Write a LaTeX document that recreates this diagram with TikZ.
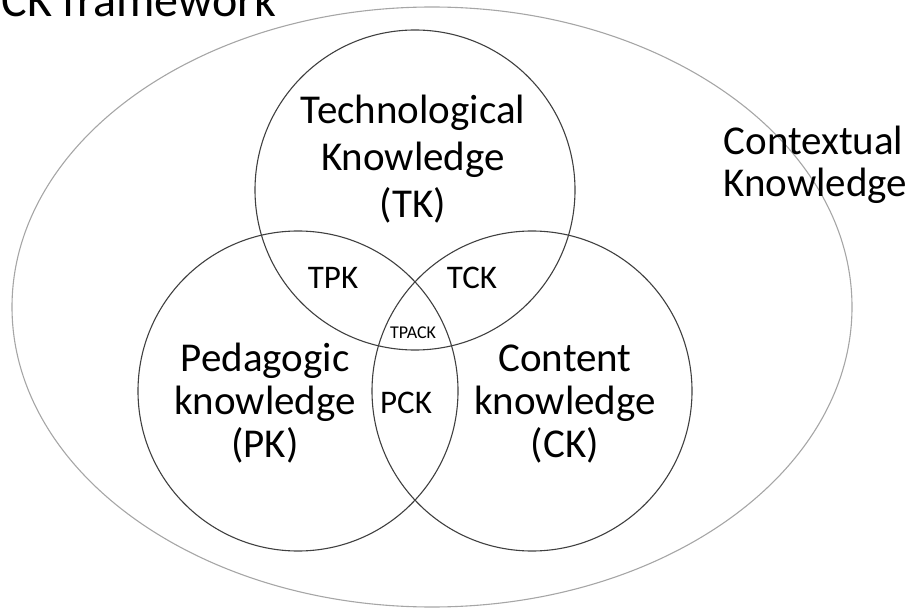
\documentclass[tikz,border=0pt]{standalone}
\usepackage{fontspec}
\setmainfont{Carlito}
\usetikzlibrary{shapes.geometric, positioning}

\begin{document}
\begin{tikzpicture}[
  x=1pt, y=-1pt,
  ring/.style={circle, draw=black!75, line width=1.1pt, minimum size=320pt, inner sep=0pt},
  bigtext/.style={font=\fontsize{41}{#1}\selectfont, align=center, anchor=base},
  bigtext/.default=45,
  midtext/.style={font=\fontsize{33}{38}\selectfont, anchor=base},
  smalltext/.style={font=\fontsize{18}{20}\selectfont, anchor=base}
]
\useasboundingbox (0,0) rectangle (909,609);
\clip (0,0) rectangle (909,609);

% outer context
\node[ellipse, draw=black!35, line width=1.1pt, minimum width=840pt, minimum height=600pt, inner sep=0pt] (context) at (432,307) {};

% the three circles
\node[ring] (tk) at (415,190) {};
\node[ring] (pk) at (298,391) {};
\node[ring] (ck) at (532,391) {};

\node[font=\fontsize{48}{52}\selectfont, anchor=base west] (title) at (-2,17) {CK framework};

% labels (base = last line)
\node[bigtext=47] (tktext) at (413,218) {Technological\\Knowledge\\(TK)};
\node[bigtext=43] (pktext) at (265,457) {Pedagogic\\knowledge\\(PK)};
\node[bigtext=43] (cktext) at (565,457) {Content\\knowledge\\(CK)};
\node[bigtext=42, align=left, anchor=base west] (cxtext) at (720,197) {Contextual\\Knowledge};

% overlaps
\node[midtext] (tpk) at (333,288) {TPK};
\node[midtext] (tck) at (472,288) {TCK};
\node[midtext] (pck) at (406,413) {PCK};
\node[smalltext] (tpack) at (413,338) {TPACK};

\end{tikzpicture}
\end{document}
